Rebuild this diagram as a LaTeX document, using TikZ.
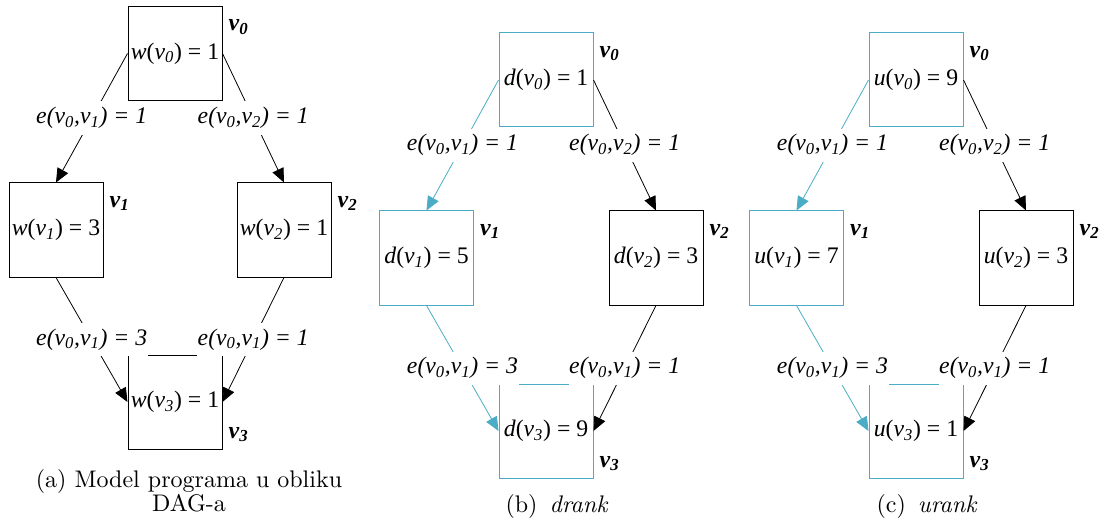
\documentclass[tikz,border=0pt]{standalone}
\usepackage{fontspec}
\newfontfamily\tnr{Liberation Serif}
\newfontfamily\lmten{lmroman10-regular.otf}[ItalicFont=lmroman10-italic.otf]
\usetikzlibrary{arrows.meta}
\definecolor{cblue}{HTML}{4BACC6}
\newcommand\sbs[1]{\textsubscript{#1}}
\newcommand\dfont{\tnr\fontsize{17.8}{20}\selectfont}
\tikzset{
  box/.style={draw, line width=0.75pt, minimum width=70.5pt, minimum height=70.5pt, inner sep=0pt, font=\dfont},
  bluebox/.style={box, draw=cblue},
  arr/.style={line width=0.6pt, -{Triangle[length=10.5pt,width=9pt]}},
  bluearr/.style={arr, draw=cblue},
  elabel/.style={fill=white, inner xsep=0.5pt, inner ysep=0pt, minimum height=25pt, font=\tnr\fontsize{17.8}{20}\selectfont\itshape, text=black},
  vname/.style={font=\tnr\fontsize{18}{20}\selectfont\bfseries\itshape, inner sep=0pt},
  captext/.style={font=\lmten\fontsize{18}{18}\selectfont, align=center, inner sep=0pt},
}
\begin{document}
\begin{tikzpicture}[x=0.75pt,y=-0.75pt]
\useasboundingbox (0,0) rectangle (1105,527);
% ---------- panel (a)
\node[box] (a0) at (175,53.5) {\textit{w}(\textit{v\sbs{0}}) = 1};
\node[box] (a1) at (56,230) {\textit{w}(\textit{v\sbs{1}}) = 3};
\node[box] (a2) at (284,230) {\textit{w}(\textit{v\sbs{2}}) = 1};
\node[box] (a3) at (175,402) {\textit{w}(\textit{v\sbs{3}}) = 1};
\node[vname] (a0n) at ([shift={(16,21)}]a0.north east) {v\sbs{0}};
\node[vname] (a1n) at ([shift={(16,21)}]a1.north east) {v\sbs{1}};
\node[vname] (a2n) at ([shift={(16,21)}]a2.north east) {v\sbs{2}};
\node[vname] (a3n) at ([shift={(16,-15)}]a3.south east) {v\sbs{3}};
\draw[arr] (a0.west) -- (a1.north) node[midway, elabel] (a01) {e(v\sbs{0},v\sbs{1}) = 1};
\draw[arr] (a0.east) -- (a2.north) node[midway, elabel] (a02) {e(v\sbs{0},v\sbs{2}) = 1};
\draw[arr] (a1.south) -- (a3.west) node[midway, elabel] (a13) {e(v\sbs{0},v\sbs{1}) = 3};
\draw[arr] (a2.south) -- (a3.east) node[midway, elabel] (a23) {e(v\sbs{0},v\sbs{1}) = 1};
\node[captext, anchor=north] (acap) at (189,469) {(a) Model programa u obliku\\DAG-a};
% ---------- panel (b)
\node[bluebox] (b0) at (546,80) {\textit{d}(\textit{v\sbs{0}}) = 1};
\node[bluebox] (b1) at (426.5,258) {\textit{d}(\textit{v\sbs{1}}) = 5};
\node[box] (b2) at (656,258) {\textit{d}(\textit{v\sbs{2}}) = 3};
\node[bluebox] (b3) at (546,431) {\textit{d}(\textit{v\sbs{3}}) = 9};
\node[vname] (b0n) at ([shift={(16,21)}]b0.north east) {v\sbs{0}};
\node[vname] (b1n) at ([shift={(16,21)}]b1.north east) {v\sbs{1}};
\node[vname] (b2n) at ([shift={(16,21)}]b2.north east) {v\sbs{2}};
\node[vname] (b3n) at ([shift={(16,-15)}]b3.south east) {v\sbs{3}};
\draw[bluearr] (b0.west) -- (b1.north) node[midway, elabel] (b01) {e(v\sbs{0},v\sbs{1}) = 1};
\draw[arr] (b0.east) -- (b2.north) node[midway, elabel] (b02) {e(v\sbs{0},v\sbs{2}) = 1};
\draw[bluearr] (b1.south) -- (b3.west) node[midway, elabel] (b13) {e(v\sbs{0},v\sbs{1}) = 3};
\draw[arr] (b2.south) -- (b3.east) node[midway, elabel] (b23) {e(v\sbs{0},v\sbs{1}) = 1};
\node[captext, anchor=base] (bcap) at (557,512) {(b)\hspace{0.5em}\textit{drank}};
% ---------- panel (c)
\node[bluebox] (c0) at (916,80) {\textit{u}(\textit{v\sbs{0}}) = 9};
\node[bluebox] (c1) at (796.5,258) {\textit{u}(\textit{v\sbs{1}}) = 7};
\node[box] (c2) at (1026,258) {\textit{u}(\textit{v\sbs{2}}) = 3};
\node[bluebox] (c3) at (916,431) {\textit{u}(\textit{v\sbs{3}}) = 1};
\node[vname] (c0n) at ([shift={(16,21)}]c0.north east) {v\sbs{0}};
\node[vname] (c1n) at ([shift={(16,21)}]c1.north east) {v\sbs{1}};
\node[vname] (c2n) at ([shift={(16,21)}]c2.north east) {v\sbs{2}};
\node[vname] (c3n) at ([shift={(16,-15)}]c3.south east) {v\sbs{3}};
\draw[bluearr] (c0.west) -- (c1.north) node[midway, elabel] (c01) {e(v\sbs{0},v\sbs{1}) = 1};
\draw[arr] (c0.east) -- (c2.north) node[midway, elabel] (c02) {e(v\sbs{0},v\sbs{2}) = 1};
\draw[bluearr] (c1.south) -- (c3.west) node[midway, elabel] (c13) {e(v\sbs{0},v\sbs{1}) = 3};
\draw[arr] (c2.south) -- (c3.east) node[midway, elabel] (c23) {e(v\sbs{0},v\sbs{1}) = 1};
\node[captext, anchor=base] (ccap) at (927,512) {(c)\hspace{0.5em}\textit{urank}};
\end{tikzpicture}
\end{document}
